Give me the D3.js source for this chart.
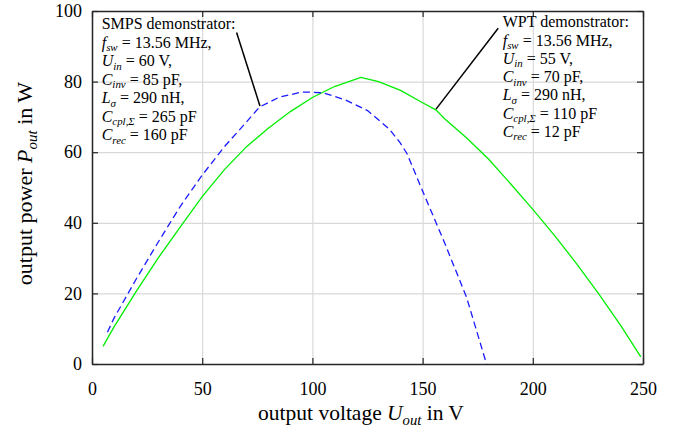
<!DOCTYPE html>
<html>
<head>
<meta charset="utf-8">
<script src="https://cdn.jsdelivr.net/npm/d3@7"></script>
<style>
  body { margin: 0; background: #fff; }
  text { font-family: "Liberation Serif", "DejaVu Serif", serif; fill: #000; }
</style>
</head>
<body>
<svg id="chart" width="683" height="432"></svg>
<script>
// data
var xTicks = [0, 50, 100, 150, 200, 250];
var yTicks = [0, 20, 40, 60, 80, 100];

// WPT demonstrator (green, solid)
var wptU = [5, 10, 20, 30, 40, 50, 60, 70, 80, 90, 100, 110, 122, 130, 140, 150, 156, 160, 170, 180, 190, 200, 210, 220, 230, 240, 249];
var wptP = [5, 10.5, 20.5, 30, 38.8, 47.4, 55, 61.5, 66.8, 71.5, 75.5, 78.6, 81.2, 80, 77.5, 74, 72, 69.5, 64, 58, 51, 43.8, 36.3, 28.3, 19.8, 10.8, 2];

// SMPS demonstrator (blue, dashed)
var smpsU = [7, 10, 20, 30, 40, 50, 60, 70, 76, 85, 95, 100, 105, 115, 125, 135, 140, 143, 150, 160, 170, 179];
var smpsP = [9, 13, 24, 34.5, 44.6, 53.5, 61.5, 68.5, 72.8, 75.6, 77, 77, 76.8, 74.8, 71.8, 66.5, 62.5, 59.5, 49, 34.3, 18.8, 0];

// annotation text, each line is a list of [text, style] pieces
var smpsLines = [
  [["SMPS demonstrator:", ""]],
  [["f", "i"], ["sw", "s"], [" = 13.56 MHz,", ""]],
  [["U", "i"], ["in", "s"], [" = 60 V,", ""]],
  [["C", "i"], ["inv", "s"], [" = 85 pF,", ""]],
  [["L", "i"], ["σ", "s"], [" = 290 nH,", ""]],
  [["C", "i"], ["cpl,Σ", "s"], [" = 265 pF", ""]],
  [["C", "i"], ["rec", "s"], [" = 160 pF", ""]]
];
var wptLines = [
  [["WPT demonstrator:", ""]],
  [["f", "i"], ["sw", "s"], [" = 13.56 MHz,", ""]],
  [["U", "i"], ["in", "s"], [" = 55 V,", ""]],
  [["C", "i"], ["inv", "s"], [" = 70 pF,", ""]],
  [["L", "i"], ["σ", "s"], [" = 290 nH,", ""]],
  [["C", "i"], ["cpl,Σ", "s"], [" = 110 pF", ""]],
  [["C", "i"], ["rec", "s"], [" = 12 pF", ""]]
];
// leader lines in data units [U, P]
var smpsLeader = [[65.6, 93.9], [76.2, 73.1]];
var wptLeader = [[184.3, 95.1], [156.1, 72.2]];

var svg = d3.select("#chart");
var margin = {top: 11, right: 40, bottom: 68, left: 92};
var width = 683 - margin.left - margin.right;
var height = 432 - margin.top - margin.bottom;

var g = svg.append("g")
  .attr("transform", "translate(" + margin.left + "," + margin.top + ")");

var x = d3.scaleLinear().domain([0, 250]).range([0, width]);
var y = d3.scaleLinear().domain([0, 100]).range([height, 0]);

// grid
g.append("g")
  .attr("transform", "translate(0," + height + ")")
  .call(d3.axisBottom(x).tickValues(xTicks).tickSize(-height).tickFormat(""))
  .call(function (s) {
    s.select(".domain").remove();
    s.selectAll("line").attr("stroke", "#d9d9d9").attr("stroke-width", 1.2);
  });
g.append("g")
  .call(d3.axisLeft(y).tickValues(yTicks).tickSize(-width).tickFormat(""))
  .call(function (s) {
    s.select(".domain").remove();
    s.selectAll("line").attr("stroke", "#d9d9d9").attr("stroke-width", 1.2);
  });

// lines
var line = d3.line()
  .x(function (d) { return x(d[0]); })
  .y(function (d) { return y(d[1]); });

g.append("path")
  .datum(wptU.map(function (u, i) { return [u, wptP[i]]; }))
  .attr("d", line)
  .attr("fill", "none")
  .attr("stroke", "#00ee00")
  .attr("stroke-width", 1.3);

g.append("path")
  .datum(smpsU.map(function (u, i) { return [u, smpsP[i]]; }))
  .attr("d", line)
  .attr("fill", "none")
  .attr("stroke", "#1a1aff")
  .attr("stroke-width", 1.3)
  .attr("stroke-dasharray", "7,4");

// axes with inward ticks and labels
var tickLen = 6;
var fix = function (s) {
  s.select(".domain").attr("stroke", "#262626").attr("stroke-width", 1.5);
  s.selectAll(".tick line").attr("stroke", "#262626").attr("stroke-width", 1.2);
  s.selectAll("text").attr("font-size", 18).attr("font-family", "Liberation Serif");
};
g.append("g")
  .attr("transform", "translate(0," + height + ")")
  .call(d3.axisBottom(x).tickValues(xTicks).tickSizeInner(-tickLen).tickSizeOuter(0).tickPadding(18))
  .call(fix);
g.append("g")
  .call(d3.axisLeft(y).tickValues(yTicks).tickSizeInner(-tickLen).tickSizeOuter(0).tickPadding(10))
  .call(fix);
g.append("g")
  .call(d3.axisTop(x).tickValues(xTicks).tickSizeInner(-tickLen).tickSizeOuter(0).tickFormat(""))
  .call(fix);
g.append("g")
  .attr("transform", "translate(" + width + ",0)")
  .call(d3.axisRight(y).tickValues(yTicks).tickSizeInner(-tickLen).tickSizeOuter(0).tickFormat(""))
  .call(fix);

// rich text helper: italic and subscript pieces
function richText(sel, parts, size) {
  var prevSub = false;
  parts.forEach(function (p) {
    var t = sel.append("tspan").text(p[0]);
    if (p[1] === "i") t.attr("font-style", "italic");
    if (p[1] === "s") {
      t.attr("font-style", "italic").attr("font-size", size * 0.68).attr("dy", size * 0.22);
    } else if (prevSub) {
      t.attr("dy", -size * 0.22);
    }
    prevSub = p[1] === "s";
  });
}

function annotate(lines, x0, y0, step) {
  lines.forEach(function (ln, i) {
    var t = g.append("text")
      .attr("x", x0)
      .attr("y", y0 + i * step)
      .attr("font-size", 16);
    richText(t, ln, 16);
  });
}
annotate(smpsLines, 101.7 - margin.left, 29 - margin.top, 18.5);
annotate(wptLines, 502.7 - margin.left, 27.3 - margin.top, 18.25);

[smpsLeader, wptLeader].forEach(function (l) {
  g.append("line")
    .attr("x1", x(l[0][0])).attr("y1", y(l[0][1]))
    .attr("x2", x(l[1][0])).attr("y2", y(l[1][1]))
    .attr("stroke", "#000").attr("stroke-width", 1.5);
});

// axis titles
var xt = svg.append("text")
  .attr("x", 361)
  .attr("y", 420)
  .attr("text-anchor", "middle")
  .attr("font-size", 21.5);
richText(xt, [["output voltage ", ""], ["U", "i"], ["out", "s"], [" in V", ""]], 21.5);

var yt = svg.append("text")
  .attr("transform", "translate(32," + (margin.top + height / 2 - 4) + ") rotate(-90)")
  .attr("text-anchor", "middle")
  .attr("font-size", 22);
richText(yt, [["output power ", ""], ["P", "i"], ["out", "s"], [" in W", ""]], 22);
</script>
</body>
</html>
